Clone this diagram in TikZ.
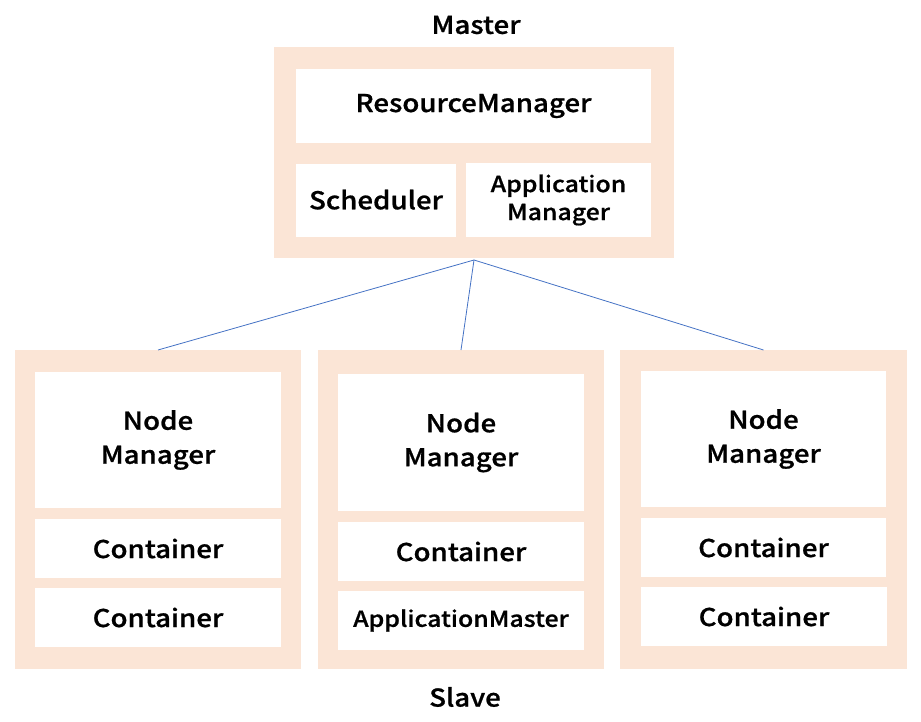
\documentclass[tikz,border=0pt]{standalone}
\usepackage{fontspec}
\setmainfont{Noto Sans CJK KR}[UprightFont={* Medium},FakeStretch=1.13,FakeBold=0.8]
\begin{document}
\begin{tikzpicture}[x=1pt,y=-1pt,
  outerbox/.style={fill=peach,draw=none,anchor=north west,inner sep=0pt,outer sep=0pt},
  innerbox/.style={fill=white,draw=none,anchor=north west,inner sep=0pt,outer sep=0pt,align=center,
    font=\fontsize{24.5}{34}\selectfont},
  smalltext/.style={font=\fontsize{22}{28}\selectfont},
  lbl/.style={font=\fontsize{24.5}{28}\selectfont,inner sep=0pt},
  link/.style={draw=linkblue,line width=0.8pt}]
\definecolor{peach}{HTML}{FBE5D6}
\definecolor{linkblue}{HTML}{4472C4}
\useasboundingbox (0,0) rectangle (921,722);
% Master
\node[lbl] (masterlbl) at (476,25) {Master};
\node[outerbox,minimum width=400pt,minimum height=211pt] (master) at (274,47) {};
\node[innerbox,minimum width=355pt,minimum height=74pt] (rm) at (296,69) {\raisebox{-2pt}{ResourceManager}};
\node[innerbox,minimum width=160pt,minimum height=73pt] (sched) at (296,164) {\raisebox{2pt}{Scheduler}};
\node[innerbox,smalltext,minimum width=185pt,minimum height=74pt] (am) at (466,163) {Application\\Manager};
% Slave 1
\node[outerbox,minimum width=286pt,minimum height=319pt] (s1) at (15,350) {};
\node[innerbox,minimum width=246pt,minimum height=136pt] (nm1) at (35,372) {Node\\Manager};
\node[innerbox,minimum width=246pt,minimum height=59pt] (c1a) at (35,519) {Container};
\node[innerbox,minimum width=246pt,minimum height=59pt] (c1b) at (35,588) {Container};
% Slave 2
\node[outerbox,minimum width=286pt,minimum height=319pt] (s2) at (318,350) {};
\node[innerbox,minimum width=246pt,minimum height=137pt] (nm2) at (338,374) {Node\\Manager};
\node[innerbox,minimum width=246pt,minimum height=59pt] (c2a) at (338,522) {Container};
\node[innerbox,smalltext,minimum width=246pt,minimum height=59pt] (amaster) at (338,591) {ApplicationMaster};
% Slave 3
\node[outerbox,minimum width=287pt,minimum height=319pt] (s3) at (620,350) {};
\node[innerbox,minimum width=245pt,minimum height=136pt] (nm3) at (641,371) {Node\\Manager};
\node[innerbox,minimum width=245pt,minimum height=59pt] (c3a) at (641,518) {Container};
\node[innerbox,minimum width=246pt,minimum height=59pt] (c3b) at (641,587) {Container};
\node[lbl] (slavelbl) at (465,697) {Slave};
% Links
\coordinate (apex) at ([yshift=-2pt]master.south);
\draw[link] (apex) -- (s1.north);
\draw[link] (apex) -- (s2.north);
\draw[link] (apex) -- (s3.north);
\end{tikzpicture}
\end{document}
